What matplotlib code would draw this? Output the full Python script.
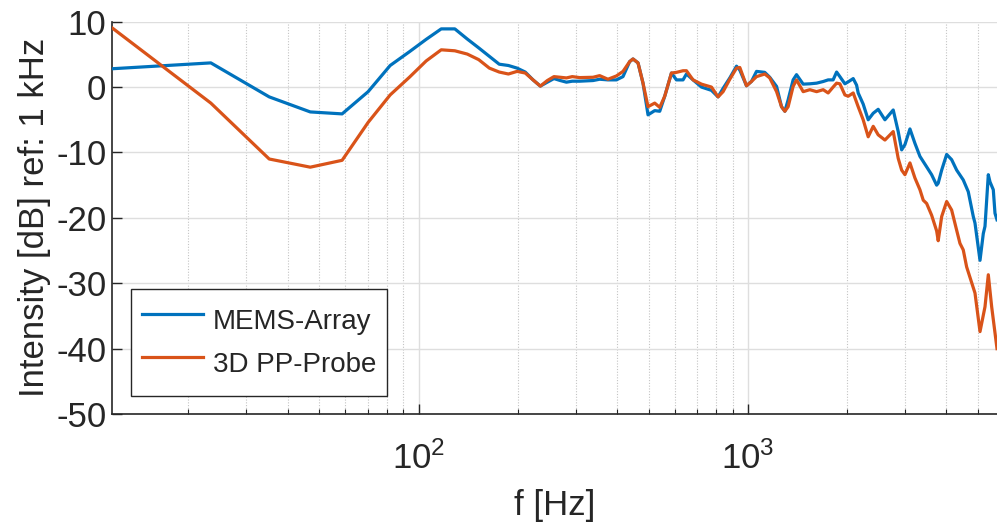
import matplotlib
matplotlib.use("Agg")
import matplotlib.pyplot as plt
from matplotlib.ticker import LogLocator, NullFormatter, FixedLocator

# ---------------- data ----------------
f_mems = [11.7, 23.4, 35.2, 46.9, 58.6, 70.3, 82.0, 93.8, 105.5, 117.2, 128.9, 140.6,
          152.3, 164.1, 175.8, 187.5, 199.2, 210.9, 222.7, 234.4, 246.1, 257.8, 269.5,
          281.3, 293.0, 308.6, 338.8, 354.9, 376.1, 399.0, 417.8, 437.8, 448.1, 464.1,
          480.6, 497.7, 521.6, 540.2, 559.4, 586.3, 607.2, 635.8, 651.2, 681.9, 723.3,
          775.7, 812.3, 841.3, 881.8, 924.2, 945.7, 990.9, 1026, 1063, 1126, 1166, 1223,
          1266, 1296, 1326, 1373, 1406, 1473, 1543, 1618, 1694, 1754, 1816, 1861, 1904,
          1972, 2018, 2090, 2140, 2164, 2241, 2321, 2404, 2489, 2609, 2765, 2863, 2933,
          3001, 3108, 3218, 3333, 3493, 3617, 3746, 3787, 3880, 4018, 4160, 4309, 4512,
          4673, 4840, 4898, 5073, 5191, 5253, 5376, 5440, 5567, 5633, 5713]
mems_db = [2.8, 3.7, -1.5, -3.8, -4.1, -0.7, 3.3, 5.4, 7.3, 8.9, 8.9, 7.35,
           6.0, 4.7, 3.5, 3.3, 2.9, 2.3, 1.1, 0.15, 0.75, 1.3, 1.0,
           0.75, 0.9, 0.9, 1.0, 1.2, 1.1, 1.1, 1.6, 3.9, 4.3, 3.7,
           0.6, -4.25, -3.6, -3.7, -1.4, 2.15, 1.1, 1.1, 2.0, 1.1, 0.0,
           -0.5, -1.5, -0.2, 1.4, 3.2, 2.6, 0.2, 0.86, 2.4, 2.25, 1.5, 0.1,
           -3.0, -3.7, -1.95, 1.1, 1.9, 0.45, 0.5, 0.6, 0.85, 1.1, 1.1, 2.3, 1.6,
           0.5, 0.8, 1.3, 0.3, -0.9, -2.6, -5.0, -4.0, -3.4, -5.0, -3.5, -6.8, -9.6,
           -8.8, -6.4, -8.6, -10.6, -12.2, -13.4, -15.0, -14.7, -12.7, -10.3, -11.1, -12.7, -14.2,
           -16.0, -19.8, -20.8, -26.5, -22.4, -21.3, -13.4, -14.5, -15.7, -19.3, -20.3]

f_probe = [11.7, 23.4, 35.2, 46.9, 58.6, 70.3, 82.0, 93.8, 105.5, 117.2, 128.9, 140.6,
           152.3, 164.1, 175.8, 187.5, 199.2, 210.9, 222.7, 234.4, 246.1, 257.8, 269.5,
           281.3, 293.0, 308.6, 338.8, 354.9, 376.1, 399.0, 417.8, 437.8, 448.1, 464.1,
           480.6, 497.7, 521.6, 540.2, 559.4, 586.3, 607.2, 635.8, 651.2, 681.9, 723.3,
           775.7, 812.3, 841.3, 881.8, 924.2, 945.7, 990.9, 1026, 1063, 1126, 1166, 1223,
           1266, 1296, 1326, 1373, 1406, 1473, 1543, 1618, 1694, 1754, 1816, 1861, 1904,
           1972, 2018, 2090, 2164, 2241, 2321, 2404, 2489, 2609, 2765, 2863, 2933, 3001,
           3108, 3218, 3333, 3411, 3493, 3617, 3746, 3787, 3880, 4018, 4160, 4309, 4409,
           4512, 4620, 4898, 5073, 5253, 5376, 5504, 5713]
probe_db = [9.1, -2.45, -11.0, -12.25, -11.2, -5.4, -1.2, 1.5, 4.0, 5.7, 5.55, 5.05,
            4.2, 2.9, 2.3, 2.0, 2.4, 2.15, 1.1, 0.15, 1.0, 1.6, 1.5,
            1.4, 1.6, 1.45, 1.5, 1.75, 1.2, 1.7, 2.4, 3.9, 4.3, 3.7,
            0.6, -3.0, -2.45, -3.1, -1.4, 2.15, 2.25, 2.5, 2.5, 1.1, 0.45,
            0.0, -1.5, -0.7, 1.2, 2.9, 3.0, 0.2, 0.86, 1.6, 2.0, 1.4, -0.7,
            -3.0, -3.7, -3.0, 0.1, 1.1, -0.7, -0.4, -0.7, -0.4, -0.9, 0.0, 0.6, 0.5,
            -1.2, -1.4, -0.9, -3.0, -5.0, -7.6, -6.0, -7.3, -8.1, -6.8, -10.9, -12.7, -13.4,
            -11.6, -13.9, -15.7, -17.3, -17.8, -19.6, -22.0, -23.5, -19.8, -17.5, -18.8, -21.9, -23.9,
            -24.9, -27.5, -31.5, -37.4, -33.6, -28.7, -33.6, -40.0]

labels = ["MEMS-Array", "3D PP-Probe"]
xlim = (11.72, 5713)
ylim = (-50, 10)
yticks = [-50, -40, -30, -20, -10, 0, 10]

# ---------------- style ----------------
plt.rcParams['font.family'] = ['Liberation Sans', 'DejaVu Sans']
plt.rcParams['mathtext.fontset'] = 'custom'
plt.rcParams['mathtext.rm'] = 'Liberation Sans'
plt.rcParams['mathtext.it'] = 'Liberation Sans:italic'
plt.rcParams['mathtext.bf'] = 'Liberation Sans:bold'
plt.rcParams['axes.unicode_minus'] = False

dark = '#262626'
fig = plt.figure(figsize=(9.97, 5.24), dpi=100)
ax = fig.add_axes([0.1123, 0.2099, 0.8877, 0.7487])

ax.plot(f_mems, mems_db, color='#0072BD', lw=2.3, label=labels[0], zorder=3)
ax.plot(f_probe, probe_db, color='#D95319', lw=2.3, label=labels[1], zorder=3)

ax.set_xscale('log')
ax.set_xlim(*xlim)
ax.set_ylim(*ylim)
ax.set_yticks(yticks)
ax.xaxis.set_major_locator(FixedLocator([100, 1000]))
ax.xaxis.set_minor_locator(LogLocator(base=10, subs=range(2, 10), numticks=20))
ax.xaxis.set_minor_formatter(NullFormatter())
ax.set_xticklabels([r'$\mathdefault{10^{2}}$', r'$\mathdefault{10^{3}}$'])

ax.grid(True, which='major', color='#dedede', lw=1.0, ls='-', zorder=0)
ax.grid(True, which='minor', axis='x', color='#c4c4c4', lw=0.8, ls=(0, (1, 1.5)), zorder=0)
ax.set_axisbelow(True)

for s in ['top', 'right']:
    ax.spines[s].set_visible(False)
for s in ['left', 'bottom']:
    ax.spines[s].set_color(dark)
    ax.spines[s].set_linewidth(1.2)

ax.tick_params(which='major', direction='in', length=7, width=1.0, color=dark,
               labelcolor=dark, labelsize=25, pad=4)
ax.tick_params(which='minor', direction='in', length=3.5, width=0.8, color=dark)
ax.tick_params(axis='x', which='major', pad=20)

ax.set_xlabel('f [Hz]', fontsize=25, color=dark, labelpad=9)
ax.set_ylabel('Intensity [dB] ref: 1 kHz', fontsize=25, color=dark, labelpad=4)

leg = ax.legend(loc='lower left', bbox_to_anchor=(0.022, 0.047), borderaxespad=0,
                fontsize=20, frameon=True, fancybox=False, handlelength=2.2,
                handleheight=2.0, handletextpad=0.35, borderpad=0.38, labelspacing=0.0)
leg.get_frame().set_edgecolor(dark)
leg.get_frame().set_linewidth(1.0)
leg.get_frame().set_alpha(1.0)
for t in leg.get_texts():
    t.set_color(dark)

fig.savefig('out.png', dpi=100)
